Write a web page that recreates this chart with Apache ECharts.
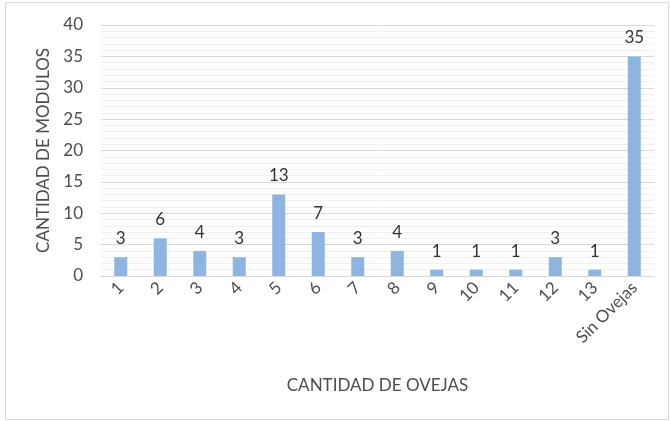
<!DOCTYPE html>
<html>
<head>
<meta charset="utf-8">
<script src="https://cdn.jsdelivr.net/npm/echarts@6/dist/echarts.min.js"></script>
<style>
  html, body { margin: 0; padding: 0; background: #fff; }
  #chart { width: 670px; height: 421px; }
</style>
</head>
<body>
<div id="chart"></div>
<script>
// categorias (cantidad de ovejas) y cantidad de modulos
const categorias = ['1', '2', '3', '4', '5', '6', '7', '8', '9', '10', '11', '12', '13', 'Sin Ovejas']
const modulos = [3, 6, 4, 3, 13, 7, 3, 4, 1, 1, 1, 3, 1, 35]

const fuente = 'Lato, "Open Sans", sans-serif'

const chart = echarts.init(document.getElementById('chart'))

const option = {
  animation: false,
  backgroundColor: '#fff',
  graphic: [
    {
      type: 'rect',
      shape: { x: 5.5, y: 2.5, width: 663, height: 417 },
      style: { fill: 'none', stroke: '#d9d9d9', lineWidth: 1 },
      silent: true,
    },
  ],
  grid: {
    left: 101,
    right: 16,
    top: 25,
    bottom: 145,
  },
  xAxis: {
    type: 'category',
    data: categorias,
    name: 'CANTIDAD DE OVEJAS',
    nameLocation: 'middle',
    nameGap: 101,
    nameTextStyle: { color: '#4d4d4d', fontSize: 17, fontFamily: fuente },
    axisLine: { lineStyle: { color: '#d9d9d9', width: 1 } },
    axisTick: { show: false },
    axisLabel: {
      color: '#4d4d4d',
      fontSize: 17,
      fontFamily: fuente,
      rotate: 45,
      margin: 9,
      interval: 0,
    },
  },
  yAxis: {
    type: 'value',
    min: 0,
    max: 40,
    interval: 5,
    name: 'CANTIDAD DE MODULOS',
    nameLocation: 'middle',
    nameGap: 49,
    nameTextStyle: { color: '#4d4d4d', fontSize: 17, fontFamily: fuente },
    axisLine: { show: false },
    axisTick: { show: false },
    axisLabel: {
      color: '#4d4d4d',
      fontSize: 17,
      fontFamily: fuente,
      margin: 18,
    },
    splitLine: { lineStyle: { color: '#d9d9d9', width: 1 } },
    minorTick: { show: false, splitNumber: 5 },
    minorSplitLine: { show: true, lineStyle: { color: '#f0f0f0', width: 1 } },
  },
  series: [
    {
      type: 'bar',
      data: modulos,
      barWidth: 13,
      itemStyle: { color: '#8eb4e2' },
      label: {
        show: true,
        position: 'top',
        distance: 10,
        color: '#333',
        fontSize: 17,
        fontFamily: fuente,
      },
    },
  ],
}

option && chart.setOption(option)
</script>
</body>
</html>
